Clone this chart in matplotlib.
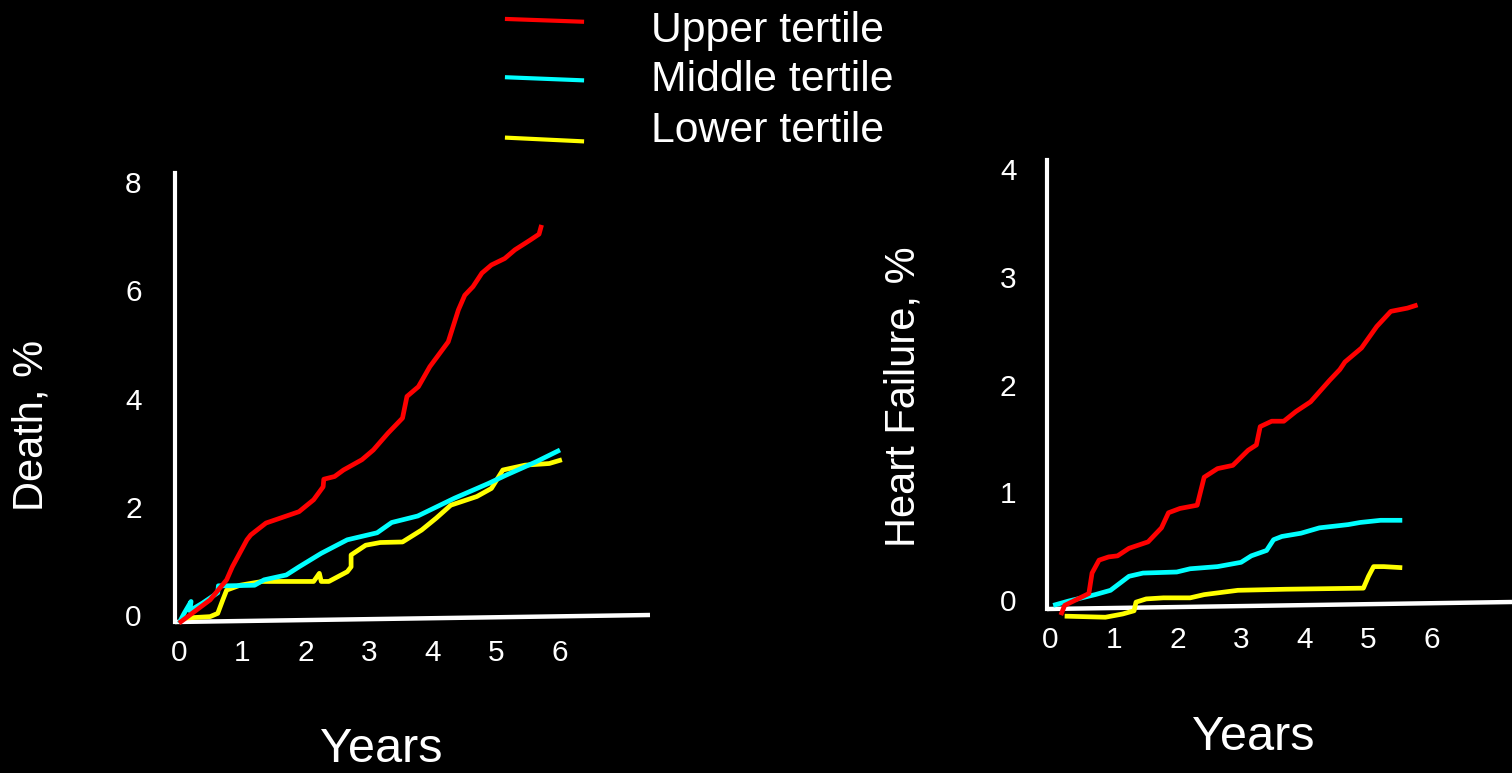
import matplotlib
matplotlib.use("Agg")
import matplotlib.pyplot as plt
from matplotlib.lines import Line2D

# ---------------- data ----------------
series_names = ["Upper tertile", "Middle tertile", "Lower tertile"]
series_colors = ["#FF0000", "#00FFFF", "#FFFF00"]

# Death panel (years, %)
death_upper_x = [0.0, 0.49, 0.75, 0.84, 1.07, 1.13, 1.37, 1.89, 2.12, 2.27, 2.28, 2.45, 2.59, 2.88,
                 3.06, 3.29, 3.52, 3.59, 3.77, 3.95, 4.24, 4.40, 4.50, 4.63, 4.77, 4.92, 5.13,
                 5.29, 5.53, 5.67, 5.71]
death_upper_y = [-0.15, 0.28, 0.65, 0.89, 1.39, 1.48, 1.70, 1.91, 2.13, 2.37, 2.51, 2.56, 2.68, 2.87,
                 3.05, 3.36, 3.64, 4.04, 4.22, 4.59, 5.05, 5.64, 5.91, 6.07, 6.32, 6.47, 6.59,
                 6.75, 6.93, 7.04, 7.21]
death_middle_x = [0.0, 0.08, 0.19, 0.17, 0.37, 0.61, 0.62, 0.78, 1.19, 1.34, 1.69, 1.89, 2.24, 2.65,
                  3.12, 3.35, 3.76, 4.34, 4.87, 5.16, 5.62, 6.00]
death_middle_y = [-0.15, 0.03, 0.25, 0.08, 0.22, 0.41, 0.54, 0.54, 0.55, 0.65, 0.74, 0.89, 1.14, 1.39,
                  1.52, 1.71, 1.83, 2.16, 2.43, 2.59, 2.83, 3.05]
death_lower_x = [0.05, 0.49, 0.61, 0.69, 0.75, 0.96, 1.31, 2.12, 2.21, 2.24, 2.36, 2.65, 2.71, 2.71,
                 2.94, 3.17, 3.52, 3.82, 4.05, 4.28, 4.69, 4.92, 5.10, 5.45, 5.83, 6.03]
death_lower_y = [-0.06, -0.03, 0.03, 0.28, 0.46, 0.55, 0.62, 0.62, 0.77, 0.62, 0.62, 0.80, 0.89, 1.11,
                 1.29, 1.34, 1.35, 1.57, 1.79, 2.03, 2.19, 2.34, 2.68, 2.77, 2.80, 2.87]

# Heart failure panel (years, %)
hf_upper_x = [0.17, 0.23, 0.61, 0.66, 0.77, 0.92, 1.06, 1.24, 1.54, 1.75, 1.86, 2.04, 2.31, 2.42,
              2.63, 2.87, 3.11, 3.24, 3.30, 3.48, 3.67, 3.86, 4.09, 4.39, 4.55, 4.63, 4.89, 5.13,
              5.35, 5.61, 5.77]
hf_upper_y = [-0.14, -0.05, 0.06, 0.25, 0.37, 0.40, 0.41, 0.48, 0.54, 0.67, 0.81, 0.85, 0.88, 1.14,
              1.22, 1.25, 1.39, 1.44, 1.61, 1.66, 1.66, 1.75, 1.84, 2.04, 2.14, 2.21, 2.34, 2.54,
              2.68, 2.71, 2.74]
hf_middle_x = [0.05, 0.29, 0.71, 0.95, 1.24, 1.46, 1.99, 2.20, 2.63, 3.00, 3.16, 3.40, 3.51, 3.64,
               3.94, 4.23, 4.68, 4.87, 5.19, 5.53]
hf_middle_y = [-0.05, -0.01, 0.05, 0.09, 0.22, 0.25, 0.26, 0.29, 0.31, 0.35, 0.41, 0.46, 0.56, 0.59,
               0.62, 0.67, 0.70, 0.72, 0.74, 0.74]
hf_lower_x = [0.23, 0.87, 1.14, 1.32, 1.35, 1.51, 1.78, 2.20, 2.42, 2.95, 3.70, 4.92, 5.00, 5.08,
              5.24, 5.53]
hf_lower_y = [-0.15, -0.16, -0.13, -0.10, -0.02, 0.01, 0.02, 0.02, 0.05, 0.09, 0.10, 0.11, 0.22, 0.31,
              0.31, 0.30]

x_ticks = [0, 1, 2, 3, 4, 5, 6]
death_yticks = [0, 2, 4, 6, 8]
hf_yticks = [0, 1, 2, 3, 4]
death_ylabel = "Death, %"
hf_ylabel = "Heart Failure, %"
xlabel = "Years"

# ---------------- figure ----------------
plt.rcParams['font.family'] = ['Liberation Sans', 'DejaVu Sans']
W, H = 1512, 773
fig = plt.figure(figsize=(W / 100, H / 100), dpi=100, facecolor="black")


def px_axes(l, t, r, b):
    return fig.add_axes([l / W, 1 - b / H, (r - l) / W, (b - t) / H])


def style(ax, xlim, ylim, yticks, ypad, rise):
    ax.set_facecolor("black")
    ax.set_xlim(*xlim)
    ax.set_ylim(*ylim)
    for s in ["top", "right", "bottom"]:
        ax.spines[s].set_visible(False)
    ax.spines["left"].set_color("white")
    ax.spines["left"].set_linewidth(3)
    ax.set_xticks(x_ticks)
    ax.set_yticks(yticks)
    ax.tick_params(axis="both", length=0, colors="white", labelsize=21.5)
    ax.tick_params(axis="y", pad=ypad)
    ax.tick_params(axis="x", pad=12)
    # slightly tilted baseline, as drawn in the original slide
    ax.plot([0, 1], [0, rise], transform=ax.transAxes, color="white", lw=3.2,
            clip_on=False, solid_capstyle="butt")


lw = 3.4
# Left panel: Death
ax1 = px_axes(175, 173, 650, 622)
style(ax1, ((175 - 179) / 63.5, (650 - 179) / 63.5), ((615 - 622) / 54.1, (615 - 173) / 54.1),
      death_yticks, 24, 7 / 449)
for xs, ys, c in [(death_lower_x, death_lower_y, series_colors[2]),
                  (death_middle_x, death_middle_y, series_colors[1]),
                  (death_upper_x, death_upper_y, series_colors[0])]:
    ax1.plot(xs, ys, color=c, lw=lw, clip_on=False, solid_joinstyle="round", solid_capstyle="butt")

# Right panel: Heart failure
ax2 = px_axes(1047, 160, 1512, 609)
style(ax2, ((1047 - 1050) / 63.7, (1512 - 1050) / 63.7), ((600 - 609) / 107.7, (600 - 160) / 107.7),
      hf_yticks, 22, 7 / 449)
for xs, ys, c in [(hf_lower_x, hf_lower_y, series_colors[2]),
                  (hf_middle_x, hf_middle_y, series_colors[1]),
                  (hf_upper_x, hf_upper_y, series_colors[0])]:
    ax2.plot(xs, ys, color=c, lw=lw, clip_on=False, solid_joinstyle="round", solid_capstyle="butt")

# axis titles
fig.text(32 / W, 1 - 425 / H, death_ylabel, rotation=90, color="white", fontsize=30,
         ha="center", va="center")
fig.text(903 / W, 1 - 397 / H, hf_ylabel, rotation=90, color="white", fontsize=30,
         ha="center", va="center")
fig.text(381 / W, 1 - 750 / H, xlabel, color="white", fontsize=35, ha="center", va="center")
fig.text(1253 / W, 1 - 738 / H, xlabel, color="white", fontsize=35, ha="center", va="center")

# legend (drawn manually like the slide)
leg_line_y = [(19, 21.7), (77.3, 80.3), (137.7, 141.3)]
leg_text_y = [31, 80, 131]
for name, c, (y0, y1), ty in zip(series_names, series_colors, leg_line_y, leg_text_y):
    fig.add_artist(Line2D([507 / W, 582 / W], [1 - y0 / H, 1 - y1 / H], color=c, lw=3,
                          transform=fig.transFigure))
    fig.text(651 / W, 1 - ty / H, name, color="white", fontsize=30.8, ha="left", va="center")

fig.savefig("out.png", dpi=100, facecolor="black")
